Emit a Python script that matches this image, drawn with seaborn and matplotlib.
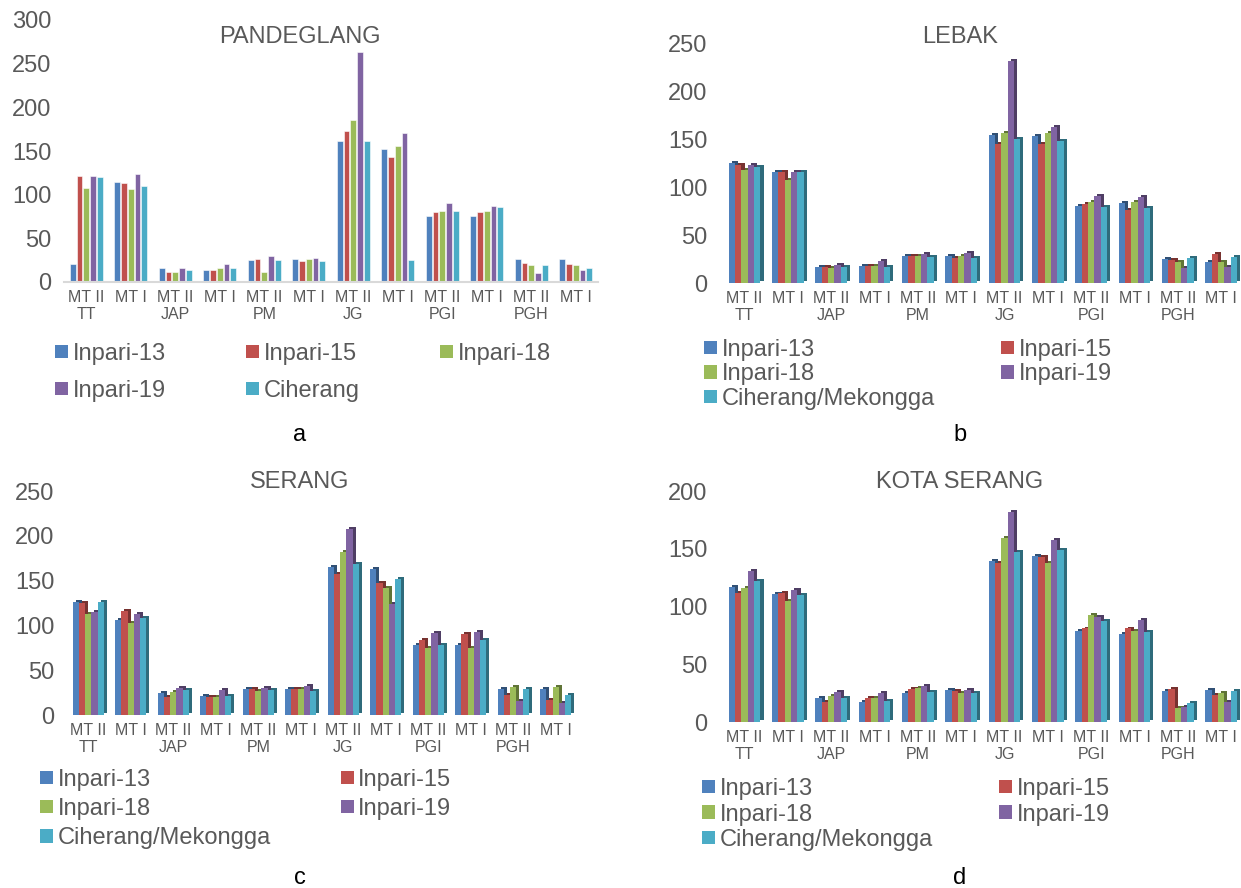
import matplotlib
matplotlib.use("Agg")
import numpy as np
import pandas as pd
import seaborn as sns
import matplotlib.pyplot as plt
import matplotlib.patheffects as pe
from matplotlib.patches import Patch
from matplotlib.colors import to_rgb

# ---- data -------------------------------------------------------------
sites = ["TT", "JAP", "PM", "JG", "PGI", "PGH"]
seasons = ["MT II", "MT I"]

varieties_a = ["Inpari-13", "Inpari-15", "Inpari-18", "Inpari-19", "Ciherang"]
varieties_bcd = ["Inpari-13", "Inpari-15", "Inpari-18", "Inpari-19", "Ciherang/Mekongga"]
colors = ["#4F81BD", "#C0504D", "#9BBB59", "#8064A2", "#4BACC6"]

# PANDEGLANG
pandeglang_inpari13 = [21, 114, 15.5, 14.3, 25, 26, 161, 152, 76, 76, 26, 26]
pandeglang_inpari15 = [121, 113, 11, 14, 26, 24, 173, 143, 80.5, 80.5, 21.3, 20.5]
pandeglang_inpari18 = [108, 106, 11.6, 15.5, 11.6, 26, 185, 155.6, 81.7, 81.7, 19.4, 20]
pandeglang_inpari19 = [121.5, 123.5, 16.6, 21, 29.4, 28, 263.6, 170.7, 91, 87, 10.8, 14]
pandeglang_ciherang = [120, 109.5, 14, 16.6, 24.8, 24.4, 161, 24.8, 81.7, 86, 20, 15.5]

# LEBAK
lebak_inpari13 = [125.5, 115.8, 16.7, 17.4, 28.6, 28.6, 154.5, 153.4, 81, 83.7, 25, 22.3]
lebak_inpari15 = [123.8, 115.8, 16.7, 17.4, 28.6, 26, 145.4, 145.4, 82.3, 76.4, 23.7, 30.3]
lebak_inpari18 = [118.5, 108, 15.3, 17.8, 28.6, 28.6, 157, 157, 84.7, 84.7, 21.6, 21.6]
lebak_inpari19 = [123.8, 116, 18.5, 23, 30.7, 31.4, 232.6, 162.8, 90.7, 89.6, 16, 17]
lebak_ciherang = [121.3, 116, 16.4, 16.4, 27.2, 26, 150.6, 148.9, 79.8, 78.8, 26.5, 27.2]

# SERANG
serang_inpari13 = [126.5, 106.4, 24.6, 21.2, 29.4, 28.6, 165, 163.3, 77.8, 77.8, 28.6, 28.6]
serang_inpari15 = [125.4, 116, 19.7, 19.7, 29.4, 28.6, 157, 147.3, 83.3, 90, 22.7, 16.7]
serang_inpari18 = [112.4, 102.3, 26, 19.7, 26.8, 29.4, 182, 142, 75.1, 75.1, 30.9, 30.9]
serang_inpari19 = [114.6, 112.4, 30.5, 27.9, 30.5, 32, 208, 124.3, 91.1, 93, 15.6, 13.4]
serang_ciherang = [125.7, 108.6, 27.5, 21.2, 27.5, 26.4, 169, 151.4, 77.8, 84, 28.6, 21.9]

# KOTA SERANG
kota_inpari13 = [116.5, 110.7, 21, 17.3, 25.4, 27.5, 139.3, 143.4, 78.6, 76.6, 26.6, 27.5]
kota_inpari15 = [112, 112, 17.3, 21, 28.6, 26.9, 137.3, 142.5, 81, 81, 29, 23.4]
kota_inpari18 = [116.2, 105, 22.3, 20.5, 29.8, 25.4, 159.2, 138, 92.5, 79.2, 12.1, 25.4]
kota_inpari19 = [131, 114.7, 26, 24.9, 31.5, 27.5, 181.5, 158, 91.3, 88, 13, 17.3]
kota_ciherang = [122, 109.8, 20.5, 17.9, 26, 24.9, 147.4, 148.8, 87.3, 77.7, 16.8, 26.6]

cat_keys = [f"{s} {m}" for s in sites for m in seasons]
tick_labels = [f"{m}\n{s}" if m == "MT II" else m for s in sites for m in seasons]

# ---- figure -----------------------------------------------------------
sns.set_style("white")
plt.rcParams["font.family"] = ["Liberation Sans", "DejaVu Sans"]
GREY = "#595959"

W, H = 1241, 888
fig = plt.figure(figsize=(W / 100, H / 100), dpi=100)


def add_ax(left, top, right, bottom):
    return fig.add_axes([left / W, 1 - bottom / H, (right - left) / W, (bottom - top) / H])


def long_frame(series, varieties):
    rows = []
    for var, vals in zip(varieties, series):
        for key, v in zip(cat_keys, vals):
            rows.append({"cat": key, "variety": var, "value": v})
    return pd.DataFrame(rows)


def draw_panel(ax, series, varieties, ymax, flat, xmax, ypad):
    df = long_frame(series, varieties)
    sns.barplot(data=df, x="cat", y="value", hue="variety", order=cat_keys,
                hue_order=varieties, palette=colors, saturation=1,
                width=0.76 if flat else 0.73, gap=0.16 if flat else 0,
                errorbar=None, legend=False, ax=ax,
                edgecolor="white" if flat else "none",
                linewidth=0.4 if flat else 0)
    if not flat:
        # bevelled look: darker side face offset to the upper right
        for p in ax.patches:
            side = np.array(to_rgb(p.get_facecolor()[:3])) * 0.62
            p.set_path_effects([pe.SimplePatchShadow(offset=(2.2, 1.4),
                                                     shadow_rgbFace=side, alpha=1),
                                pe.Normal()])
    ax.set_ylim(0, ymax)
    ax.set_xlim(-0.5, xmax)
    ax.set_yticks(np.arange(0, ymax + 1, 50))
    ax.set_xticks(range(len(cat_keys)))
    ax.set_xticklabels(tick_labels, fontsize=11.5, color=GREY, linespacing=1.15)
    ax.tick_params(axis="y", labelsize=17, labelcolor=GREY, length=0, pad=ypad)
    ax.tick_params(axis="x", length=0, pad=6)
    ax.set_xlabel("")
    ax.set_ylabel("")
    for s in ax.spines.values():
        s.set_visible(False)
    if flat:
        ax.spines["bottom"].set_visible(True)
        ax.spines["bottom"].set_color("#D9D9D9")
        ax.spines["bottom"].set_linewidth(1.5)


def add_legend(varieties, order, x, y, ncol, colspacing, labelspacing):
    handles = [Patch(facecolor=colors[i], edgecolor="none") for i in order]
    labels = [varieties[i] for i in order]
    fig.legend(handles, labels, loc="upper left", bbox_to_anchor=(x / W, 1 - y / H),
               ncol=ncol, frameon=False, fontsize=17, labelcolor=GREY,
               handlelength=0.55, handleheight=0.5, handletextpad=0.2,
               columnspacing=colspacing, labelspacing=labelspacing,
               borderpad=0, borderaxespad=0)


# a: PANDEGLANG
ax_a = add_ax(64, 20, 598, 282)
draw_panel(ax_a, [pandeglang_inpari13, pandeglang_inpari15, pandeglang_inpari18,
                  pandeglang_inpari19, pandeglang_ciherang],
           varieties_a, 300, True, 11.5, 9)
fig.text(300 / W, 1 - 37 / H, "PANDEGLANG", fontsize=17, color=GREY, ha="center", va="center")
add_legend(varieties_a, [0, 3, 1, 4, 2], 55, 343, 3, 3.4, 0.62)
fig.text(300 / W, 1 - 435 / H, "a", fontsize=17, color="black", ha="center", va="center")

# b: LEBAK
ax_b = add_ax(723, 44, 1241, 283)
draw_panel(ax_b, [lebak_inpari13, lebak_inpari15, lebak_inpari18,
                  lebak_inpari19, lebak_ciherang],
           varieties_bcd, 250, False, 11.46, 11)
fig.text(960 / W, 1 - 37 / H, "LEBAK", fontsize=17, color=GREY, ha="center", va="center")
add_legend(varieties_bcd, [0, 2, 4, 1, 3], 704, 339, 2, 2.8, 0.1)
fig.text(960 / W, 1 - 435 / H, "b", fontsize=17, color="black", ha="center", va="center")

# c: SERANG
ax_c = add_ax(67, 491, 577, 715)
draw_panel(ax_c, [serang_inpari13, serang_inpari15, serang_inpari18,
                  serang_inpari19, serang_ciherang],
           varieties_bcd, 250, False, 11.5, 9)
fig.text(300 / W, 1 - 482 / H, "SERANG", fontsize=17, color=GREY, ha="center", va="center")
add_legend(varieties_bcd, [0, 2, 4, 1, 3], 40, 769, 2, 2.95, 0.3)
fig.text(300 / W, 1 - 878 / H, "c", fontsize=17, color="black", ha="center", va="center")

# d: KOTA SERANG
ax_d = add_ax(723, 491, 1241, 722)
draw_panel(ax_d, [kota_inpari13, kota_inpari15, kota_inpari18,
                  kota_inpari19, kota_ciherang],
           varieties_bcd, 200, False, 11.46, 11)
fig.text(960 / W, 1 - 482 / H, "KOTA SERANG", fontsize=17, color=GREY, ha="center", va="center")
add_legend(varieties_bcd, [0, 2, 4, 1, 3], 702, 778, 2, 2.8, 0.15)
fig.text(960 / W, 1 - 878 / H, "d", fontsize=17, color="black", ha="center", va="center")

fig.savefig("out.png", dpi=100)
